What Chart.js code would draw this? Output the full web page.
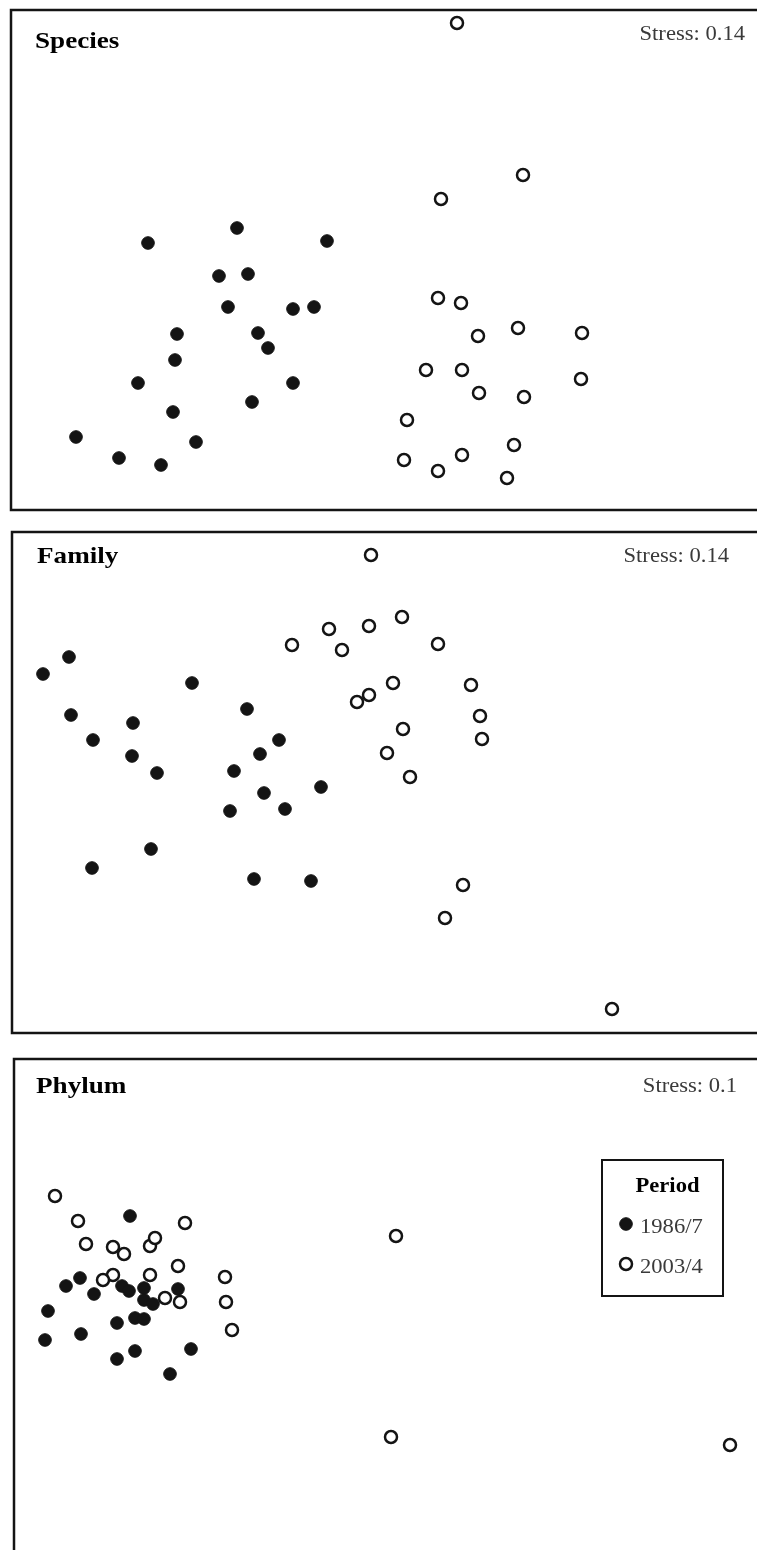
<!DOCTYPE html>
<html>
<head>
<meta charset="utf-8">
<script src="https://cdn.jsdelivr.net/npm/chart.js@4.4.0/dist/chart.umd.min.js"></script>
<style>
  html, body { margin: 0; padding: 0; background: #fff; }
  body { width: 757px; height: 1550px; position: relative; overflow: hidden; }
  canvas { position: absolute; }
</style>
</head>
<body>
<canvas id="speciesChart"></canvas>
<canvas id="familyChart"></canvas>
<canvas id="phylumChart"></canvas>
<script>
// NMDS scores (arbitrary units, origin at lower-left of each panel)
const speciesX1986 = [137, 226, 316, 208, 237, 217, 282, 303, 166, 247, 257, 164, 127, 282, 241, 162, 185, 65, 108, 150];
const speciesY1986 = [267, 282, 269, 234, 236, 203, 201, 203, 176, 177, 162, 150, 127, 127, 108, 98, 68, 73, 52, 45];
const speciesX2003 = [446, 512, 430, 427, 450, 467, 507, 571, 415, 451, 468, 513, 570, 396, 503, 393, 427, 451, 496];
const speciesY2003 = [487, 335, 311, 212, 207, 174, 182, 177, 140, 140, 117, 113, 131, 90, 65, 50, 39, 55, 32];

const familyX1986 = [31, 57, 180, 59, 121, 81, 120, 145, 235, 267, 248, 222, 252, 309, 218, 273, 139, 80, 242, 299];
const familyY1986 = [359, 376, 350, 318, 310, 293, 277, 260, 324, 293, 279, 262, 240, 246, 222, 224, 184, 165, 154, 152];
const familyX2003 = [359, 280, 317, 357, 390, 330, 426, 381, 357, 345, 459, 468, 470, 391, 375, 398, 451, 433, 600];
const familyY2003 = [478, 388, 404, 407, 416, 383, 389, 350, 338, 331, 348, 317, 294, 304, 280, 256, 148, 115, 24];

const phylumX1986 = [116, 66, 52, 80, 108, 115, 130, 164, 130, 139, 34, 31, 67, 103, 121, 130, 103, 121, 177, 156];
const phylumY1986 = [334, 272, 264, 256, 264, 259, 262, 261, 250, 246, 239, 210, 216, 227, 232, 231, 191, 199, 201, 176];
const phylumX2003 = [41, 64, 72, 99, 110, 136, 141, 171, 164, 136, 99, 89, 151, 166, 211, 212, 218, 382, 377, 716];
const phylumY2003 = [354, 329, 306, 303, 296, 304, 312, 327, 284, 275, 275, 270, 252, 248, 273, 248, 220, 314, 113, 105];

const periods = ['1986/7', '2003/4'];

const INK = '#141414';
const SERIF = '"Liberation Serif", "Times New Roman", serif';
const STRETCH = 1.13; // the original type is set a bit wide

const toPoints = (xs, ys) => xs.map((x, i) => ({ x: x, y: ys[i] }));

// page layout of the three panels
const panels = [
    { id: 'speciesChart', title: 'Species', stress: 'Stress: 0.14', left: 11, top: 10, bottom: 510, closed: true,
      titleX: 35, titleY: 48, stressX: 745, stressY: 40,
      old: toPoints(speciesX1986, speciesY1986), recent: toPoints(speciesX2003, speciesY2003) },
    { id: 'familyChart', title: 'Family', stress: 'Stress: 0.14', left: 12, top: 532, bottom: 1033, closed: true,
      titleX: 37, titleY: 563, stressX: 729, stressY: 562,
      old: toPoints(familyX1986, familyY1986), recent: toPoints(familyX2003, familyY2003) },
    { id: 'phylumChart', title: 'Phylum', stress: 'Stress: 0.1', left: 14, top: 1059, bottom: 1550, closed: false,
      titleX: 36, titleY: 1093, stressX: 737, stressY: 1092,
      old: toPoints(phylumX1986, phylumY1986), recent: toPoints(phylumX2003, phylumY2003),
      legend: { x: 602, y: 1160, w: 121, h: 136, titleY: 1192, markX: 626, textX: 640, rows: [1233, 1273] } }
];

function drawText(ctx, text, x, y, font, color, align) {
    ctx.save();
    ctx.font = font;
    ctx.fillStyle = color;
    ctx.textBaseline = 'alphabetic';
    const w = ctx.measureText(text).width * STRETCH;
    let x0 = x;
    if (align === 'right') x0 = x - w;
    if (align === 'center') x0 = x - w / 2;
    ctx.translate(x0, y);
    ctx.scale(STRETCH, 1);
    ctx.fillText(text, 0, 0);
    ctx.restore();
}

function marker(ctx, x, y, filled) {
    ctx.save();
    ctx.beginPath();
    ctx.arc(x, y, filled ? 6.3 : 6, 0, Math.PI * 2);
    ctx.fillStyle = filled ? INK : '#fff';
    ctx.fill();
    ctx.lineWidth = filled ? 1 : 2.5;
    ctx.strokeStyle = INK;
    ctx.stroke();
    ctx.restore();
}

panels.forEach(p => {
    const canvas = document.getElementById(p.id);
    const offX = p.left - 2;
    const offY = p.top - 2;
    const canvasBottom = p.closed ? p.bottom + 2 : 1550;
    canvas.width = 757 - offX;
    canvas.height = canvasBottom - offY;
    canvas.style.left = offX + 'px';
    canvas.style.top = offY + 'px';

    const framePlugin = {
        id: 'frame',
        beforeDatasetsDraw(chart) {
            const ctx = chart.ctx;
            const w = chart.width, h = chart.height;
            ctx.save();
            ctx.strokeStyle = INK;
            ctx.lineWidth = 2.5;
            ctx.beginPath();
            ctx.moveTo(w, 2);
            ctx.lineTo(2, 2);
            if (p.closed) {
                ctx.lineTo(2, h - 2);
                ctx.lineTo(w, h - 2);
            } else {
                ctx.lineTo(2, h);
            }
            ctx.stroke();
            ctx.restore();
            drawText(ctx, p.title, p.titleX - offX, p.titleY - offY, 'bold 24px ' + SERIF, '#000', 'left');
            drawText(ctx, p.stress, p.stressX - offX, p.stressY - offY, '20px ' + SERIF, '#3a3a3a', 'right');
        },
        afterDatasetsDraw(chart) {
            const lg = p.legend;
            if (!lg) return;
            const ctx = chart.ctx;
            ctx.save();
            ctx.fillStyle = '#fff';
            ctx.fillRect(lg.x - offX, lg.y - offY, lg.w, lg.h);
            ctx.strokeStyle = INK;
            ctx.lineWidth = 2;
            ctx.strokeRect(lg.x - offX, lg.y - offY, lg.w, lg.h);
            ctx.restore();
            drawText(ctx, 'Period', lg.x + lg.w / 2 - offX + 5, lg.titleY - offY, 'bold 20px ' + SERIF, '#000', 'center');
            chart.data.datasets.forEach((ds, i) => {
                const row = lg.rows[i];
                marker(ctx, lg.markX - offX, row - 9 - offY, ds.label === periods[0]);
                drawText(ctx, ds.label, lg.textX - offX, row - offY, '20px ' + SERIF, '#3a3a3a', 'left');
            });
        }
    };

    new Chart(canvas.getContext('2d'), {
        type: 'scatter',
        data: {
            datasets: [
                {
                    label: periods[0],
                    data: p.old,
                    order: 1,
                    pointRadius: 6.3,
                    pointBackgroundColor: INK,
                    pointBorderColor: INK,
                    pointBorderWidth: 1
                },
                {
                    label: periods[1],
                    data: p.recent,
                    order: 0,
                    pointRadius: 6,
                    pointBackgroundColor: '#fff',
                    pointBorderColor: INK,
                    pointBorderWidth: 2.5
                }
            ]
        },
        options: {
            responsive: false,
            animation: false,
            events: [],
            layout: { padding: 0, autoPadding: false },
            plugins: {
                legend: { display: false },
                tooltip: { enabled: false }
            },
            scales: {
                x: { type: 'linear', display: false, min: -2, max: 757 - p.left },
                y: { type: 'linear', display: false, min: p.bottom - canvasBottom, max: p.bottom - p.top + 2 }
            }
        },
        plugins: [framePlugin]
    });
});
</script>
</body>
</html>
